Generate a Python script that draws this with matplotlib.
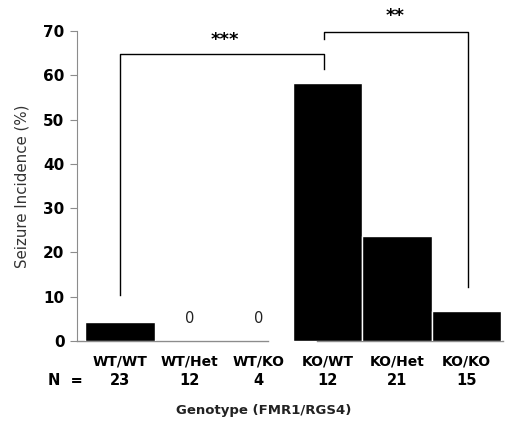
import matplotlib.pyplot as plt

plt.rcParams['font.family'] = ['DejaVu Sans']

# datos
genotipos = ['WT/WT', 'WT/Het', 'WT/KO', 'KO/WT', 'KO/Het', 'KO/KO']
n_ratones = [23, 12, 4, 12, 21, 15]
incidencia = [4.3, 0, 0, 58.3, 23.8, 6.7]

gris = '#8c8c8c'

fig = plt.figure(figsize=(5.06, 4.25), dpi=100)
ax = fig.add_axes([0.152, 0.1976, 0.842, 0.7294])

x = list(range(len(genotipos)))
ax.bar(x, incidencia, width=1.0, color='black', edgecolor='white', linewidth=1.0, zorder=3)

# etiqueta "0" sobre las barras vacias
for i, v in enumerate(incidencia):
    if v == 0:
        ax.text(i, 5, '0', ha='center', va='center', fontsize=10.5, color='#222222')

ax.set_xlim(-0.621, 5.53)
ax.set_ylim(0, 70)
ax.set_yticks(range(0, 71, 10))
ax.tick_params(axis='y', direction='out', length=5, color=gris, labelsize=11, pad=4)
for lab in ax.get_yticklabels():
    lab.set_fontweight('bold')
ax.set_xticks([])

for s in ['top', 'right', 'bottom']:
    ax.spines[s].set_visible(False)
ax.spines['left'].set_color(gris)

# eje x partido
ax.plot([-0.621, 2.14], [0, 0], color=gris, lw=1, clip_on=False, zorder=2)
ax.plot([2.84, 5.53], [0, 0], color=gris, lw=1, clip_on=False, zorder=2)

# etiquetas de genotipo y N
for i, (g, n) in enumerate(zip(genotipos, n_ratones)):
    ax.text(i, -4.6, g, ha='center', va='center', fontsize=10, fontweight='bold')
    ax.text(i, -8.9, str(n), ha='center', va='center', fontsize=10.5, fontweight='bold')
ax.text(-0.79, -8.9, 'N  =', ha='center', va='center', fontsize=10.5, fontweight='bold')

ax.text(2.07, -15.8, 'Genotype (FMR1/RGS4)', ha='center', va='center', fontsize=9.5, fontweight='bold',
        color='#222222')
ax.set_ylabel('Seizure Incidence (%)', fontsize=10.8, color='#333333', labelpad=10)

# corchetes de significancia
ax.plot([0, 0, 2.94, 2.94], [10.4, 64.8, 64.8, 61.4], color='black', lw=1, clip_on=False)
ax.text(1.52, 68, '***', ha='center', va='center', fontsize=13, fontweight='bold')
ax.plot([2.94, 2.94, 5.02, 5.02], [68.2, 69.8, 69.8, 12.2], color='black', lw=1, clip_on=False)
ax.text(3.97, 73.4, '**', ha='center', va='center', fontsize=13, fontweight='bold', clip_on=False)

fig.savefig('out.png', dpi=100)
